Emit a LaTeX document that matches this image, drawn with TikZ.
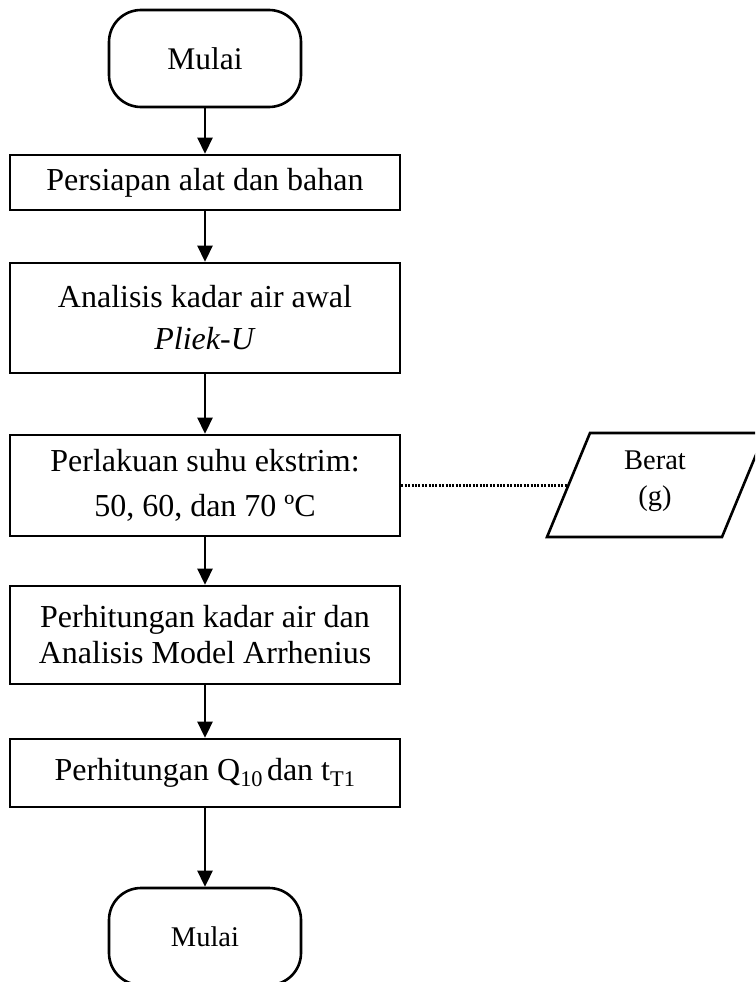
\documentclass[tikz,border=0pt]{standalone}
\usepackage{fontspec}
\setmainfont{Liberation Serif}
\usetikzlibrary{arrows.meta}
\begin{document}
\begin{tikzpicture}[x=1pt,y=-1pt,
  box/.style={draw, line width=2.6pt, minimum width=390pt, align=center, inner sep=0pt},
  term/.style={draw, line width=2.6pt, rounded corners=32pt, minimum width=192pt, minimum height=97pt, inner sep=0pt},
  arr/.style={line width=2.6pt, -{Triangle[width=15pt,length=16pt]}},
  dotline/.style={line width=2.4pt, dash pattern=on 2pt off 1.4pt}]
\useasboundingbox (0,0) rectangle (755,982);
\clip (0,0) rectangle (755,982);
\node[term, font=\fontsize{31.5}{37}\selectfont] (start) at (205,58.5) {Mulai};
\node[box, minimum height=55pt, font=\fontsize{32}{37}\selectfont] (b1) at (205,182.5) {Persiapan alat dan bahan};
\node[box, minimum height=110pt, font=\fontsize{32}{42}\selectfont] (b2) at (205,318) {Analisis kadar air awal\\\textit{Pliek-U}};
\node[box, minimum height=101pt, font=\fontsize{32}{45}\selectfont] (b3) at (205,485.5) {Perlakuan suhu ekstrim:\\50, 60, dan 70 ºC};
\node[box, minimum height=98pt, font=\fontsize{32}{36}\selectfont] (b4) at (205,635) {Perhitungan kadar air dan\\Analisis Model Arrhenius};
\node[box, minimum height=68pt, font=\fontsize{32}{37}\selectfont] (b5) at (205,773) {Perhitungan Q\textsubscript{10}\hspace{0.12em}dan t\textsubscript{T1}};
\node[term, font=\fontsize{28.5}{34}\selectfont] (end) at (205,936.5) {Mulai};
\draw[arr] (start) -- (b1);
\draw[arr] (b1) -- (b2);
\draw[arr] (b2) -- (b3);
\draw[arr] (b3) -- (b4);
\draw[arr] (b4) -- (b5);
\draw[arr] (b5) -- (end);
\coordinate (p1) at (547,537);
\coordinate (p2) at (722,537);
\coordinate (p3) at (765,433);
\coordinate (p4) at (590,433);
\draw[line width=2.6pt] (p1) -- (p2) -- (p3) -- (p4) -- cycle;
\node[font=\fontsize{28.5}{36}\selectfont, align=center] (berat) at (655,481) {Berat\\(g)};
\coordinate (pin) at (568.5,485.5);
\draw[dotline] (b3.east) -- (pin);
\end{tikzpicture}
\end{document}
